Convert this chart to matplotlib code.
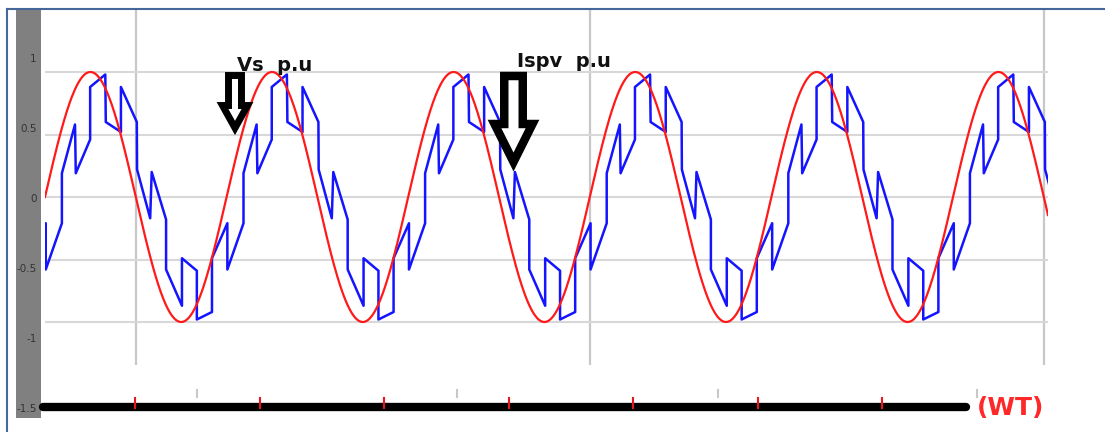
import numpy as np
import matplotlib
matplotlib.use("Agg")
import matplotlib.pyplot as plt
from matplotlib.patches import Polygon

plt.rcParams['axes.unicode_minus'] = False

# supply voltage Vs (p.u.) at 50 Hz, window 0.04 s .. 0.1505 s
f_grid = 50.0
t_start, t_end = 0.04, 0.15046
vs_amplitude = 1.0

# one cycle of the PV inverter current Ispv (p.u.), phase in degrees of Vs
ispv_phase = [1.5, 1.5, 33.5, 33.5, 59.5, 61.0, 89.5, 89.5, 119.5, 120.5, 150.5, 150.5,
              182.0, 182.5, 208.5, 211.5, 240.0, 240.0, 271.5, 271.5, 301.0, 301.0, 331.0, 331.0]
ispv_pu = [-0.21, -0.58, -0.21, 0.19, 0.58, 0.19, 0.46, 0.88, 0.98, 0.60, 0.52, 0.88,
           0.60, 0.22, -0.17, 0.20, -0.18, -0.58, -0.87, -0.49, -0.59, -0.98, -0.92, -0.49]

y_ticks = [-1.5, -1, -0.5, 0, 0.5, 1]
y_ticklabels = ['-1.5', '-1', '-0.5', '0', '0.5', '1']
t_grid = [0.05, 0.10, 0.15]
pu_grid = [-1, -0.5, 0, 0.5, 1]

W, H = 1105, 432
fig = plt.figure(figsize=(W / 100, H / 100), dpi=100)


def px_rect(x0, y0, x1, y1):
    return [x0 / W, 1 - y1 / H, (x1 - x0) / W, (y1 - y0) / H]


# waveform panel
ax = fig.add_axes(px_rect(45, 10, 1048, 365))
ax.set_xlim(t_start, t_end)
ax.set_ylim(-1.344, 1.496)
for s in ax.spines.values():
    s.set_visible(False)
ax.set_xticks([])
ax.set_yticks([])
for t in t_grid:
    ax.axvline(t, color='#c8c8c8', lw=1.6, zorder=1)
for v in pu_grid:
    ax.axhline(v, color='#d8d8d8', lw=1.5, zorder=1)

cycles = range(-1, 7)
t_ispv = np.concatenate([t_start + (k + np.array(ispv_phase) / 360.0) / f_grid for k in cycles])
i_ispv = np.tile(ispv_pu, len(cycles))
ax.plot(t_ispv, i_ispv, color='#1414ff', lw=1.8, zorder=2)

t = np.linspace(t_start, t_end, 3000)
vs = vs_amplitude * np.sin(2 * np.pi * f_grid * t)
ax.plot(t, vs, color='#ff1a1a', lw=1.6, zorder=3)

# grey y-scale strip
band = fig.add_axes(px_rect(16, 10, 41, 418))
band.set_facecolor('#808080')
for s in band.spines.values():
    s.set_visible(False)
band.set_xticks([])
band.set_ylim(-1.571, 1.343)
band.set_yticks(y_ticks)
band.set_yticklabels(y_ticklabels)
band.tick_params(axis='y', length=0, pad=-15, labelsize=7.5, labelcolor='#333333')

# frame, wt axis, arrows and labels in pixel coordinates
deco = fig.add_axes([0, 0, 1, 1])
deco.set_xlim(0, W)
deco.set_ylim(H, 0)
deco.axis('off')
deco.patch.set_visible(False)
deco.set_zorder(5)

deco.plot([7, 7], [9, H], color='#45679c', lw=1.5)
deco.plot([7, W], [9, 9], color='#45679c', lw=1.5)

deco.plot([43, 966], [407, 407], color='black', lw=6, solid_capstyle='round')
for x in [135, 259.5, 384, 508.5, 633, 757.5, 882]:
    deco.plot([x, x], [398, 408], color='#e8141e', lw=1.5)
for x in [197, 457, 718, 977]:
    deco.plot([x, x], [390, 397], color='#c8c8c8', lw=1.5)


def block_arrow(cx, top, shaft_w, head_w, shoulder, tip, lw):
    pts = [(cx - shaft_w / 2, top), (cx + shaft_w / 2, top), (cx + shaft_w / 2, shoulder),
           (cx + head_w / 2, shoulder), (cx, tip), (cx - head_w / 2, shoulder),
           (cx - shaft_w / 2, shoulder)]
    deco.add_patch(Polygon(pts, closed=True, facecolor='white', edgecolor='black',
                           lw=lw, joinstyle='miter'))


block_arrow(235, 75.5, 13, 25, 105.5, 128, 5)
block_arrow(513.5, 76, 18.5, 38, 124, 162, 6.1)

deco.text(237, 71, 'Vs  p.u', fontsize=14, fontweight='bold', color='#111111', va='baseline')
deco.text(517, 67, 'Ispv  p.u', fontsize=14, fontweight='bold', color='#111111', va='baseline')
deco.text(977, 408, '(WT)', fontsize=18, fontweight='bold', color='#ff2828', va='center')

fig.savefig('out.png', dpi=100)
